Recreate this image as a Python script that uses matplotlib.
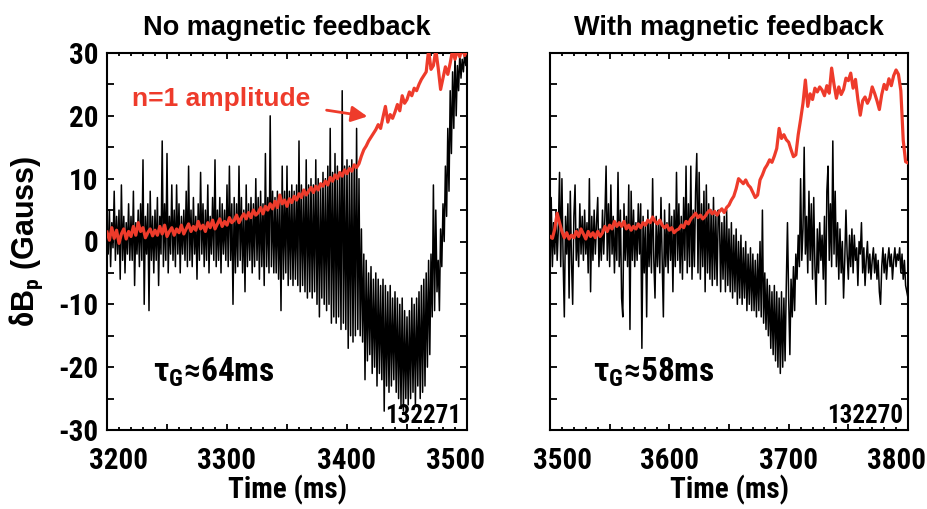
import numpy as np
import matplotlib
matplotlib.use("Agg")
import matplotlib.pyplot as plt
from matplotlib import font_manager
from matplotlib.ticker import MultipleLocator, FuncFormatter
from matplotlib.transforms import ScaledTranslation

# ---------------- data ----------------
titles = ["No magnetic feedback", "With magnetic feedback"]
shot_ids = ["132271", "132270"]
tau_labels = ["64ms", "58ms"]
xlims = [(3200, 3500), (3500, 3800)]
ylim = (-30, 30)

# black trace, left panel: 1 ms samples from 3200 ms
black_left_start, black_step = 3200, 1.0
black_left = [
    2, -2, 5, -4, 3, -1, 8, -3, 4, -2,
    5, -6, 9, -3, 4, -5, 3, -2, 6, -3,
    4, -3, 8, -7, 3, -2, 5, -4, 6, -3,
    13, -10, 4, -2, 6, -11, 8, -3, 4, -5,
    5, -3, 7, -7, 4, -2, 16, -4, 6, -3,
    14, -5, 4, -2, 9, -3, 5, -4, 9, -2,
    6, -5, 4, -2, 5, -3, 8, -4, 12, -3,
    5, -4, 7, -2, 4, -6, 6, -3, 11, -2,
    6, -4, 5, -3, 9, -5, 4, -2, 7, -3,
    13, -4, 5, -3, 7, -5, 6, -2, 5, -3,
    9, -4, 12, -3, 6, -10, 7, -5, 6, -4,
    12, -3, 7, -5, 5, -8, 9, -4, 6, -3,
    7, -5, 6, -4, 10, -3, 7, -6, 8, -4,
    6, -7, 14, -4, 7, -5, 20, -4, 8, -5,
    7, -5, 8, -6, 7, -11, 12, -6, 8, -5,
    12, -7, 8, -6, 9, -7, 8, -6, 9, -7,
    16, -8, 9, -7, 8, -8, 13, -9, 9, -8,
    10, -9, 9, -8, 13, -10, 10, -12, 9, -9,
    11, -10, 10, -11, 12, -10, 18, -13, 11, -12,
    14, -13, 12, -12, 11, -14, 24, -13, 12, -14,
    13, -17, 12, -15, 13, -16, 12, -15, 18, -14,
    10, -15, 2, -16, -2, -22, -3, -19, -5, -18,
    -4, -21, -6, -20, -5, -23, -6, -21, -7, -22,
    -6, -27, -7, -23, -8, -24, -7, -23, -9, -22,
    -8, -24, -9, -25, -10, -26, -9, -27, -11, -25,
    -12, -26, -11, -25, -9, -24, -10, -26, -9, -23,
    -8, -25, -7, -24, -6, -23, -5, -20, -3, -18,
    -2, -12, 9, -11, 5, -8, -3, -11, 2, -4,
    6, 0, 12, 4, 18, 8, 24, 14, 27, 18,
    30, 20, 28, 24, 30, 26, 29, 27, 30, 28,
    30, 26, 29, 28, 30, 29, 30, 30, 30,
]

# n=1 amplitude, left panel: 2 ms samples from 3200 ms
red_left_start, red_step = 3200, 2.0
red_left = [
    1.5, 0.2, 2.2, 0.5, 1.8, -0.3, 1.2, 2.0, 0.4, 1.6,
    0.8, 2.4, 1.0, 3.0, 1.6, 2.2, 0.6, 1.4, 2.0, 0.9,
    1.8, 1.0, 2.4, 1.2, 2.6, 0.8, 1.6, 2.2, 1.0, 2.0,
    1.4, 2.6, 1.2, 2.0, 2.8, 1.6, 2.4, 1.8, 3.2, 2.0,
    2.6, 1.6, 3.0, 2.2, 3.4, 2.0, 2.8, 3.6, 2.4, 3.2,
    2.6, 3.8, 3.0, 3.4, 4.2, 3.0, 3.8, 4.4, 3.6, 4.6,
    3.8, 5.0, 4.2, 4.6, 5.4, 4.4, 5.6, 5.0, 6.0, 5.2,
    6.4, 5.4, 7.4, 6.0, 6.6, 5.6, 6.8, 6.2, 7.2, 6.6,
    7.6, 7.0, 8.2, 7.4, 8.0, 8.6, 7.8, 8.8, 8.2, 9.2,
    8.8, 9.6, 9.0, 10.2, 9.6, 10.6, 10.0, 11.0, 10.4, 11.4,
    10.8, 11.6, 11.2, 12.2, 11.8, 12.4, 13.6, 14.6, 15.2, 16.0,
    16.6, 17.2, 17.8, 18.6, 18.0, 19.8, 21.5, 19.0, 20.2, 19.6,
    20.6, 21.8, 20.8, 23.2, 22.0, 22.6, 23.8, 23.2, 24.4, 24.0,
    25.0, 25.8, 26.4, 27.0, 30.5, 27.4, 28.0, 30.5, 27.6, 24.2,
    26.0, 27.8, 26.6, 28.4, 30.5, 29.0, 30.5, 29.4, 31.0, 29.6,
    30.5, 29.4, 31.0, 29.8, 30.5,
]

# black trace, right panel: 1 ms samples from 3500 ms
black_right_start = 3500
black_right = [
    -6, 7, -4, 3, -2, 5, -3, 2, 11, -4,
    10, -3, -12, 4, -2, 6, -9, 8, -3, -10,
    4, 9, -3, 2, -4, 6, -2, 4, -3, 5,
    -2, 3, -5, 10, -8, 4, -3, 5, -2, 3,
    7, -4, 2, -3, 5, -2, 4, 12, -3, 6,
    -4, 9, -2, 4, -5, 3, -3, 11, -4, 5,
    -9, -12, 6, -3, 4, -4, 9, -14, 8, -3,
    5, -4, 3, -3, 6, -2, 6, -17, 4, -5,
    3, -12, 5, -4, 3, -5, 10, -3, -9, 4,
    -4, 3, -5, 7, -3, -12, 5, -4, 3, -5,
    6, -3, 4, -8, 5, -4, 11, -3, 6, -5,
    4, -6, 7, -3, 12, -5, 6, -4, 12, -6,
    5, -4, 8, 14, -5, 11, -6, 6, -4, 8,
    -8, 9, -5, 6, -6, 5, -7, 7, -6, 4,
    -7, 5, 4, -8, 3, -6, 4, -8, 5, -7,
    2, -8, 3, -9, 1, -8, 2, -10, 0, -9,
    1, -10, -1, -9, 0, -11, -2, -10, -1, -11,
    -2, -11, -3, -12, -2, -11, 0, -12, 5, -13,
    -5, -14, -6, -15, -7, -17, -8, -18, -7, -19,
    -8, -20, -9, -21, -8, -20, -9, -19, -7, 3,
    -9, -18, -6, -12, -4, -11, -2, -6, 1, -4,
    10, -3, 2, 15, -2, 4, -5, 8, -3, 6,
    -6, 7, -4, -10, 2, -5, 3, -3, 1, -6,
    4, -10, 8, 12, -3, 6, -4, 16, -2, 8,
    -4, 3, -6, 2, -5, 0, -9, -3, 5, -2,
    -6, 1, -4, 2, -5, 1, -3, -1, -7, 0,
    -2, 3, -5, -1, -7, -3, 0, -5, -2, -6,
    -3, -1, -5, -2, -6, -3, -8, -10, -4, -1,
    -5, -2, -6, -3, -1, -4, -2, -6, -3, -1,
    -4, -2, -3, -1, -5, -2, -6, -3, -7, -8,
    -9,
]

# n=1 amplitude, right panel: 2 ms samples from 3500 ms
red_right_start = 3500
red_right = [
    0.8, 0.5, 2.0, 4.5, 3.0, 1.6, 0.6, 1.4, 0.4, 1.0,
    0.6, 1.6, 0.8, 2.0, 1.2, 0.4, 1.6, 0.8, 1.4, 0.6,
    1.6, 0.8, 1.4, 2.4, 1.6, 2.6, 2.0, 3.2, 2.4, 3.0,
    2.4, 3.2, 2.0, 2.6, 1.8, 2.4, 2.0, 2.8, 2.2, 3.0,
    2.6, 3.4, 3.0, 3.9, 3.2, 2.8, 3.4, 2.6, 2.2, 2.6,
    1.8, 2.2, 1.4, 1.8, 2.0, 2.6, 2.2, 3.2, 2.8, 3.6,
    4.0, 4.5, 3.8, 4.2, 3.6, 4.0, 4.6, 5.0, 4.4, 4.8,
    4.2, 4.8, 5.2, 4.6, 5.4, 5.8, 6.6, 7.2, 8.4, 10.0,
    9.6, 9.2, 9.8, 9.0, 8.6, 7.8, 7.0, 7.4, 9.8, 10.6,
    11.6, 12.2, 13.0, 12.6, 13.6, 14.8, 18.0, 16.4, 17.0, 16.2,
    15.8, 14.6, 13.5, 13.8, 17.0, 19.4, 22.0, 25.7, 21.5, 23.5,
    22.6, 24.4, 23.8, 24.6, 24.1, 23.2, 24.8, 23.6, 27.6, 25.0,
    22.8, 24.6, 23.4, 24.2, 26.0, 25.6, 26.8, 24.4, 25.8, 22.6,
    20.1, 22.4, 23.0, 22.0, 22.8, 24.6, 23.6, 22.4, 21.0, 23.4,
    25.0, 24.2, 25.9, 24.8, 26.4, 27.3, 26.6, 24.0, 16.1, 12.7,
    12.5,
]

# annotation anchor values (data units)
label_text = "n=1 amplitude"
label_pos = (3295, 22.7)
arrow_tail = (3383, 20.9)
arrow_head = (3417, 19.9)
tau_pos = [(3238, -20.8), (3536, -20.8)]

# ---------------- fonts ----------------
ttf = font_manager.fontManager.ttflist
names = {f.name for f in ttf}
NARROW, STRETCH = None, "normal"
for cand in ["Liberation Sans Narrow", "Roboto Condensed", "Open Sans Condensed",
             "DejaVu Sans Condensed", "Noto Sans Condensed"]:
    if cand in names:
        NARROW = cand
        break
if NARROW is None:
    cond = [f for f in ttf if f.name == "DejaVu Sans" and str(f.stretch) in ("condensed", "semi-condensed")]
    if cond:
        NARROW, STRETCH = "DejaVu Sans", "condensed"
    else:
        NARROW = "Liberation Sans"
WIDE = "Liberation Sans"

plt.rcParams["font.family"] = [NARROW, "DejaVu Sans"]
plt.rcParams["font.weight"] = "bold"
plt.rcParams["axes.unicode_minus"] = False
plt.rcParams["mathtext.fontset"] = "custom"
plt.rcParams["mathtext.rm"] = NARROW + ":bold"
plt.rcParams["mathtext.it"] = NARROW + ":bold"
plt.rcParams["mathtext.bf"] = NARROW + ":bold"

RED = "#ee3b2b"

fig = plt.figure(figsize=(9.27, 5.09), dpi=100)
W, H = 927, 509
boxes = [(107, 53, 467, 430), (550, 53, 908, 430)]
axes = []
for (x0, y0, x1, y1) in boxes:
    axes.append(fig.add_axes([x0 / W, 1 - y1 / H, (x1 - x0) / W, (y1 - y0) / H]))

traces = [
    (black_left_start, black_left, red_left_start, red_left),
    (black_right_start, black_right, red_right_start, red_right),
]

for i, ax in enumerate(axes):
    bs, bv, rs, rv = traces[i]
    bt = bs + black_step * np.arange(len(bv))
    rt = rs + red_step * np.arange(len(rv))
    ax.plot(bt, bv, color="black", lw=1.1, zorder=2)
    ax.plot(rt, rv, color=RED, lw=2.3, zorder=3)
    ax.set_xlim(*xlims[i])
    ax.set_ylim(*ylim)
    ax.xaxis.set_major_locator(MultipleLocator(50))
    ax.xaxis.set_minor_locator(MultipleLocator(10))
    ax.yaxis.set_major_locator(MultipleLocator(10))
    ax.yaxis.set_minor_locator(MultipleLocator(5))
    ax.xaxis.set_major_formatter(FuncFormatter(lambda v, p: f"{int(round(v))}" if round(v) % 100 == 0 else ""))
    ax.tick_params(which="both", direction="in", top=True, right=True, width=1.3)
    ax.tick_params(axis="x", which="major", length=4.5, pad=12, labelsize=21)
    ax.tick_params(axis="x", which="minor", length=2.5)
    ax.tick_params(axis="y", which="both", length=5, pad=6, labelsize=21)
    for lab in ax.get_xticklabels() + ax.get_yticklabels():
        lab.set_fontweight("bold")
        lab.set_fontstretch(STRETCH)
    if i == 1:
        ax.tick_params(axis="y", labelleft=False)
    for s in ax.spines.values():
        s.set_linewidth(1.5)
    ax.set_xlabel("Time (ms)", fontsize=21, fontweight="bold", fontstretch=STRETCH, labelpad=0)
    ax.set_title(titles[i], fontsize=19.5, fontweight="bold", family=[WIDE, "DejaVu Sans"], pad=13)
    ax.text(tau_pos[i][0], tau_pos[i][1], r"$\mathrm{τ}_{\mathrm{G}}$" + "≈" + tau_labels[i],
            fontsize=24, fontweight="bold", fontstretch=STRETCH, va="center", ha="left", zorder=5)
    ax.text(0.985, 0.005, shot_ids[i], transform=ax.transAxes, ha="right", va="bottom",
            fontsize=18, fontstretch=STRETCH, zorder=5)

axes[0].set_ylabel(r"$\delta$B$_\mathrm{p}$ (Gauss)", fontsize=22, fontweight="bold",
                   family=[WIDE, "DejaVu Sans"], labelpad=10)

axes[0].text(label_pos[0], label_pos[1], label_text, color=RED, fontsize=19,
             fontweight="bold", family=[WIDE, "DejaVu Sans"], ha="center", va="center", zorder=5)
axes[0].annotate("", xy=arrow_head, xytext=arrow_tail,
                 arrowprops=dict(arrowstyle="-|>", color=RED, lw=2, mutation_scale=24,
                                 shrinkA=0, shrinkB=0), zorder=5)

fig.canvas.draw()
for i, ax in enumerate(axes):
    lo, hi = xlims[i]
    for tk in ax.xaxis.get_major_ticks():
        v = tk.get_loc()
        lab = tk.label1
        if abs(v - lo) < 1e-6:
            lab.set_transform(lab.get_transform() + ScaledTranslation(12 / 100, 0, fig.dpi_scale_trans))
        elif abs(v - hi) < 1e-6:
            lab.set_transform(lab.get_transform() + ScaledTranslation(-12 / 100, 0, fig.dpi_scale_trans))

fig.savefig("out.png", dpi=100)
